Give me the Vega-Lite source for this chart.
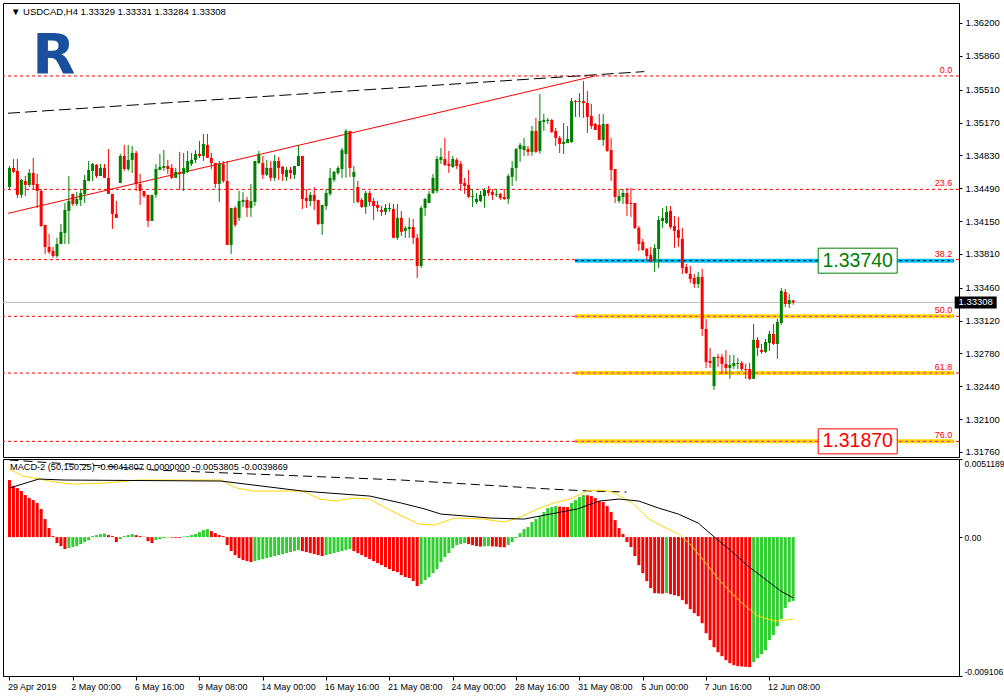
{
"$schema":"https://vega.github.io/schema/vega-lite/v6.json",
"background":"white",
"padding":{"left":2,"top":2,"right":0,"bottom":0},
"bounds":"flush",
"config":{"view":{"stroke":"#000000","strokeWidth":1},"font":"Liberation Sans","axis":{"labelFont":"Liberation Sans","labelFontSize":9.5,"labelColor":"#000000","tickColor":"#000000","domainColor":"#000000","grid":false,"labelOverlap":false,"labelBound":false}},
"spacing":2,
"datasets":{
"candles":[
{"i":0,"o":1.34503,"h":1.34720,"l":1.34482,"c":1.34700},
{"i":1,"o":1.34700,"h":1.34793,"l":1.34648,"c":1.34659},
{"i":2,"o":1.34669,"h":1.34793,"l":1.34390,"c":1.34421},
{"i":3,"o":1.34421,"h":1.34586,"l":1.34390,"c":1.34576},
{"i":4,"o":1.34565,"h":1.34617,"l":1.34410,"c":1.34524},
{"i":5,"o":1.34524,"h":1.34689,"l":1.34503,"c":1.34648},
{"i":6,"o":1.34648,"h":1.34804,"l":1.34482,"c":1.34524},
{"i":7,"o":1.34534,"h":1.34638,"l":1.34286,"c":1.34462},
{"i":8,"o":1.34462,"h":1.34482,"l":1.34089,"c":1.34099},
{"i":9,"o":1.34110,"h":1.34110,"l":1.33810,"c":1.33882},
{"i":10,"o":1.33882,"h":1.34017,"l":1.33810,"c":1.33831},
{"i":11,"o":1.33841,"h":1.33882,"l":1.33769,"c":1.33789},
{"i":12,"o":1.33789,"h":1.33976,"l":1.33769,"c":1.33913},
{"i":13,"o":1.33913,"h":1.34120,"l":1.33913,"c":1.34038},
{"i":14,"o":1.34027,"h":1.34337,"l":1.33913,"c":1.34265},
{"i":15,"o":1.34255,"h":1.34617,"l":1.33913,"c":1.34358},
{"i":16,"o":1.34431,"h":1.34431,"l":1.34306,"c":1.34327},
{"i":17,"o":1.34327,"h":1.34452,"l":1.34306,"c":1.34379},
{"i":18,"o":1.34369,"h":1.34482,"l":1.34306,"c":1.34441},
{"i":19,"o":1.34431,"h":1.34628,"l":1.34337,"c":1.34576},
{"i":20,"o":1.34565,"h":1.34772,"l":1.34565,"c":1.34679},
{"i":21,"o":1.34669,"h":1.34751,"l":1.34565,"c":1.34741},
{"i":22,"o":1.34731,"h":1.34741,"l":1.34597,"c":1.34617},
{"i":23,"o":1.34617,"h":1.34741,"l":1.34617,"c":1.34700},
{"i":24,"o":1.34700,"h":1.34741,"l":1.34597,"c":1.34597},
{"i":25,"o":1.34597,"h":1.34896,"l":1.34431,"c":1.34431},
{"i":26,"o":1.34431,"h":1.34431,"l":1.34068,"c":1.34224},
{"i":27,"o":1.34224,"h":1.34358,"l":1.34183,"c":1.34183},
{"i":28,"o":1.34544,"h":1.34845,"l":1.34544,"c":1.34824},
{"i":29,"o":1.34824,"h":1.34938,"l":1.34669,"c":1.34689},
{"i":30,"o":1.34689,"h":1.34938,"l":1.34669,"c":1.34783},
{"i":31,"o":1.34783,"h":1.34927,"l":1.34648,"c":1.34855},
{"i":32,"o":1.34855,"h":1.34876,"l":1.34462,"c":1.34534},
{"i":33,"o":1.34534,"h":1.34638,"l":1.34317,"c":1.34462},
{"i":34,"o":1.34462,"h":1.34462,"l":1.34390,"c":1.34410},
{"i":35,"o":1.34421,"h":1.34421,"l":1.34089,"c":1.34151},
{"i":36,"o":1.34151,"h":1.34421,"l":1.34151,"c":1.34421},
{"i":37,"o":1.34421,"h":1.34741,"l":1.34390,"c":1.34689},
{"i":38,"o":1.34679,"h":1.34845,"l":1.34679,"c":1.34710},
{"i":39,"o":1.34700,"h":1.34886,"l":1.34669,"c":1.34720},
{"i":40,"o":1.34720,"h":1.34783,"l":1.34638,"c":1.34689},
{"i":41,"o":1.34700,"h":1.34741,"l":1.34586,"c":1.34597},
{"i":42,"o":1.34597,"h":1.34700,"l":1.34597,"c":1.34659},
{"i":43,"o":1.34659,"h":1.34866,"l":1.34472,"c":1.34638},
{"i":44,"o":1.34638,"h":1.34855,"l":1.34462,"c":1.34700},
{"i":45,"o":1.34659,"h":1.34876,"l":1.34648,"c":1.34772},
{"i":46,"o":1.34741,"h":1.34855,"l":1.34720,"c":1.34783},
{"i":47,"o":1.34783,"h":1.34886,"l":1.34751,"c":1.34845},
{"i":48,"o":1.34845,"h":1.34979,"l":1.34804,"c":1.34824},
{"i":49,"o":1.34824,"h":1.35052,"l":1.34772,"c":1.34948},
{"i":50,"o":1.34938,"h":1.35052,"l":1.34804,"c":1.34804},
{"i":51,"o":1.34804,"h":1.34855,"l":1.34689,"c":1.34751},
{"i":52,"o":1.34751,"h":1.34751,"l":1.34493,"c":1.34534},
{"i":53,"o":1.34534,"h":1.34772,"l":1.34348,"c":1.34741},
{"i":54,"o":1.34741,"h":1.34772,"l":1.34544,"c":1.34565},
{"i":55,"o":1.34565,"h":1.34772,"l":1.33903,"c":1.33903},
{"i":56,"o":1.33903,"h":1.34286,"l":1.33810,"c":1.34286},
{"i":57,"o":1.34286,"h":1.34306,"l":1.34089,"c":1.34110},
{"i":58,"o":1.34183,"h":1.34462,"l":1.34151,"c":1.34358},
{"i":59,"o":1.34348,"h":1.34452,"l":1.34296,"c":1.34369},
{"i":60,"o":1.34369,"h":1.34400,"l":1.34193,"c":1.34286},
{"i":61,"o":1.34286,"h":1.34534,"l":1.34193,"c":1.34358},
{"i":62,"o":1.34348,"h":1.34772,"l":1.34306,"c":1.34772},
{"i":63,"o":1.34751,"h":1.34876,"l":1.34741,"c":1.34845},
{"i":64,"o":1.34751,"h":1.34824,"l":1.34586,"c":1.34628},
{"i":65,"o":1.34628,"h":1.34783,"l":1.34617,"c":1.34700},
{"i":66,"o":1.34700,"h":1.34772,"l":1.34565,"c":1.34597},
{"i":67,"o":1.34597,"h":1.34835,"l":1.34565,"c":1.34772},
{"i":68,"o":1.34772,"h":1.34814,"l":1.34576,"c":1.34700},
{"i":69,"o":1.34710,"h":1.34720,"l":1.34565,"c":1.34638},
{"i":70,"o":1.34607,"h":1.34710,"l":1.34565,"c":1.34679},
{"i":71,"o":1.34679,"h":1.34710,"l":1.34586,"c":1.34648},
{"i":72,"o":1.34628,"h":1.34720,"l":1.34586,"c":1.34720},
{"i":73,"o":1.34720,"h":1.34938,"l":1.34720,"c":1.34824},
{"i":74,"o":1.34824,"h":1.34824,"l":1.34275,"c":1.34379},
{"i":75,"o":1.34390,"h":1.34482,"l":1.34286,"c":1.34358},
{"i":76,"o":1.34358,"h":1.34452,"l":1.34306,"c":1.34421},
{"i":77,"o":1.34421,"h":1.34503,"l":1.34265,"c":1.34358},
{"i":78,"o":1.34369,"h":1.34369,"l":1.34110,"c":1.34120},
{"i":79,"o":1.34120,"h":1.34317,"l":1.34007,"c":1.34317},
{"i":80,"o":1.34306,"h":1.34482,"l":1.34265,"c":1.34441},
{"i":81,"o":1.34431,"h":1.34700,"l":1.34410,"c":1.34597},
{"i":82,"o":1.34576,"h":1.34669,"l":1.34555,"c":1.34659},
{"i":83,"o":1.34648,"h":1.34720,"l":1.34628,"c":1.34700},
{"i":84,"o":1.34689,"h":1.34907,"l":1.34597,"c":1.34886},
{"i":85,"o":1.34845,"h":1.35103,"l":1.34597,"c":1.35083},
{"i":86,"o":1.35083,"h":1.35083,"l":1.34607,"c":1.34700},
{"i":87,"o":1.34607,"h":1.34720,"l":1.34337,"c":1.34659},
{"i":88,"o":1.34503,"h":1.34565,"l":1.34337,"c":1.34348},
{"i":89,"o":1.34369,"h":1.34390,"l":1.34286,"c":1.34296},
{"i":90,"o":1.34296,"h":1.34462,"l":1.34224,"c":1.34441},
{"i":91,"o":1.34441,"h":1.34462,"l":1.34306,"c":1.34348},
{"i":92,"o":1.34358,"h":1.34390,"l":1.34162,"c":1.34306},
{"i":93,"o":1.34317,"h":1.34358,"l":1.34245,"c":1.34286},
{"i":94,"o":1.34265,"h":1.34306,"l":1.34203,"c":1.34245},
{"i":95,"o":1.34245,"h":1.34327,"l":1.34214,"c":1.34286},
{"i":96,"o":1.34275,"h":1.34337,"l":1.34245,"c":1.34286},
{"i":97,"o":1.34275,"h":1.34327,"l":1.33976,"c":1.33976},
{"i":98,"o":1.33976,"h":1.34327,"l":1.33955,"c":1.34183},
{"i":99,"o":1.34183,"h":1.34255,"l":1.33996,"c":1.34038},
{"i":100,"o":1.34048,"h":1.34099,"l":1.33976,"c":1.34079},
{"i":101,"o":1.34068,"h":1.34183,"l":1.33976,"c":1.34089},
{"i":102,"o":1.34089,"h":1.34172,"l":1.33913,"c":1.33976},
{"i":103,"o":1.33976,"h":1.34017,"l":1.33562,"c":1.33685},
{"i":104,"o":1.33685,"h":1.34306,"l":1.33665,"c":1.34286},
{"i":105,"o":1.34286,"h":1.34390,"l":1.34203,"c":1.34379},
{"i":106,"o":1.34337,"h":1.34462,"l":1.34337,"c":1.34431},
{"i":107,"o":1.34441,"h":1.34638,"l":1.34431,"c":1.34597},
{"i":108,"o":1.34462,"h":1.34824,"l":1.34441,"c":1.34793},
{"i":109,"o":1.34783,"h":1.34907,"l":1.34741,"c":1.34814},
{"i":110,"o":1.34793,"h":1.35011,"l":1.34720,"c":1.34731},
{"i":111,"o":1.34741,"h":1.34876,"l":1.34648,"c":1.34720},
{"i":112,"o":1.34710,"h":1.34824,"l":1.34700,"c":1.34793},
{"i":113,"o":1.34783,"h":1.34804,"l":1.34689,"c":1.34720},
{"i":114,"o":1.34741,"h":1.34772,"l":1.34462,"c":1.34534},
{"i":115,"o":1.34544,"h":1.34597,"l":1.34431,"c":1.34513},
{"i":116,"o":1.34524,"h":1.34679,"l":1.34390,"c":1.34400},
{"i":117,"o":1.34400,"h":1.34482,"l":1.34296,"c":1.34410},
{"i":118,"o":1.34348,"h":1.34441,"l":1.34327,"c":1.34379},
{"i":119,"o":1.34358,"h":1.34462,"l":1.34348,"c":1.34421},
{"i":120,"o":1.34410,"h":1.34493,"l":1.34286,"c":1.34472},
{"i":121,"o":1.34472,"h":1.34513,"l":1.34410,"c":1.34441},
{"i":122,"o":1.34452,"h":1.34482,"l":1.34369,"c":1.34421},
{"i":123,"o":1.34421,"h":1.34482,"l":1.34400,"c":1.34431},
{"i":124,"o":1.34431,"h":1.34441,"l":1.34369,"c":1.34390},
{"i":125,"o":1.34400,"h":1.34482,"l":1.34369,"c":1.34379},
{"i":126,"o":1.34379,"h":1.34638,"l":1.34327,"c":1.34617},
{"i":127,"o":1.34607,"h":1.34772,"l":1.34513,"c":1.34700},
{"i":128,"o":1.34700,"h":1.34907,"l":1.34565,"c":1.34896},
{"i":129,"o":1.34896,"h":1.34958,"l":1.34762,"c":1.34938},
{"i":130,"o":1.34886,"h":1.35011,"l":1.34824,"c":1.34927},
{"i":131,"o":1.34896,"h":1.34927,"l":1.34824,"c":1.34866},
{"i":132,"o":1.34866,"h":1.35134,"l":1.34824,"c":1.35083},
{"i":133,"o":1.35083,"h":1.35218,"l":1.34855,"c":1.34866},
{"i":134,"o":1.34876,"h":1.35465,"l":1.34845,"c":1.35186},
{"i":135,"o":1.35176,"h":1.35259,"l":1.35083,"c":1.35197},
{"i":136,"o":1.35186,"h":1.35218,"l":1.35155,"c":1.35197},
{"i":137,"o":1.35197,"h":1.35207,"l":1.35062,"c":1.35073},
{"i":138,"o":1.35083,"h":1.35114,"l":1.34927,"c":1.35011},
{"i":139,"o":1.35011,"h":1.35031,"l":1.34855,"c":1.34948},
{"i":140,"o":1.34948,"h":1.35165,"l":1.34845,"c":1.34969},
{"i":141,"o":1.34958,"h":1.35134,"l":1.34958,"c":1.35000},
{"i":142,"o":1.34969,"h":1.35424,"l":1.34958,"c":1.35393},
{"i":143,"o":1.35393,"h":1.35403,"l":1.35228,"c":1.35383},
{"i":144,"o":1.35383,"h":1.35475,"l":1.35228,"c":1.35393},
{"i":145,"o":1.35393,"h":1.35600,"l":1.35218,"c":1.35372},
{"i":146,"o":1.35372,"h":1.35496,"l":1.35062,"c":1.35228},
{"i":147,"o":1.35238,"h":1.35362,"l":1.35103,"c":1.35134},
{"i":148,"o":1.35155,"h":1.35165,"l":1.35093,"c":1.35093},
{"i":149,"o":1.35145,"h":1.35259,"l":1.34990,"c":1.34990},
{"i":150,"o":1.34990,"h":1.35259,"l":1.34927,"c":1.35155},
{"i":151,"o":1.35155,"h":1.35155,"l":1.34866,"c":1.34876},
{"i":152,"o":1.34886,"h":1.35011,"l":1.34565,"c":1.34679},
{"i":153,"o":1.34689,"h":1.34689,"l":1.34337,"c":1.34400},
{"i":154,"o":1.34358,"h":1.34482,"l":1.34337,"c":1.34410},
{"i":155,"o":1.34400,"h":1.34482,"l":1.34327,"c":1.34441},
{"i":156,"o":1.34441,"h":1.34493,"l":1.34203,"c":1.34327},
{"i":157,"o":1.34337,"h":1.34493,"l":1.34193,"c":1.34327},
{"i":158,"o":1.34337,"h":1.34337,"l":1.34068,"c":1.34079},
{"i":159,"o":1.34079,"h":1.34099,"l":1.33841,"c":1.33913},
{"i":160,"o":1.33934,"h":1.33965,"l":1.33841,"c":1.33851},
{"i":161,"o":1.33861,"h":1.33872,"l":1.33748,"c":1.33789},
{"i":162,"o":1.33800,"h":1.33882,"l":1.33727,"c":1.33727},
{"i":163,"o":1.33737,"h":1.33913,"l":1.33624,"c":1.33872},
{"i":164,"o":1.33861,"h":1.34203,"l":1.33665,"c":1.34162},
{"i":165,"o":1.34151,"h":1.34286,"l":1.34079,"c":1.34183},
{"i":166,"o":1.34130,"h":1.34306,"l":1.34120,"c":1.34245},
{"i":167,"o":1.34255,"h":1.34306,"l":1.34068,"c":1.34089},
{"i":168,"o":1.34099,"h":1.34203,"l":1.33872,"c":1.34048},
{"i":169,"o":1.34058,"h":1.34193,"l":1.33882,"c":1.33976},
{"i":170,"o":1.33965,"h":1.34079,"l":1.33603,"c":1.33665},
{"i":171,"o":1.33675,"h":1.33706,"l":1.33603,"c":1.33613},
{"i":172,"o":1.33603,"h":1.33685,"l":1.33509,"c":1.33551},
{"i":173,"o":1.33562,"h":1.33603,"l":1.33458,"c":1.33499},
{"i":174,"o":1.33499,"h":1.33624,"l":1.33458,"c":1.33572},
{"i":175,"o":1.33572,"h":1.33655,"l":1.32961,"c":1.33033},
{"i":176,"o":1.33033,"h":1.33137,"l":1.32630,"c":1.32692},
{"i":177,"o":1.32702,"h":1.32837,"l":1.32630,"c":1.32681},
{"i":178,"o":1.32443,"h":1.32744,"l":1.32402,"c":1.32744},
{"i":179,"o":1.32744,"h":1.32775,"l":1.32640,"c":1.32733},
{"i":180,"o":1.32744,"h":1.32775,"l":1.32568,"c":1.32671},
{"i":181,"o":1.32671,"h":1.32816,"l":1.32568,"c":1.32630},
{"i":182,"o":1.32630,"h":1.32765,"l":1.32516,"c":1.32661},
{"i":183,"o":1.32650,"h":1.32765,"l":1.32619,"c":1.32681},
{"i":184,"o":1.32671,"h":1.32733,"l":1.32619,"c":1.32681},
{"i":185,"o":1.32681,"h":1.32702,"l":1.32599,"c":1.32619},
{"i":186,"o":1.32619,"h":1.32671,"l":1.32516,"c":1.32609},
{"i":187,"o":1.32619,"h":1.32681,"l":1.32506,"c":1.32516},
{"i":188,"o":1.32516,"h":1.33085,"l":1.32516,"c":1.32920},
{"i":189,"o":1.32920,"h":1.32951,"l":1.32754,"c":1.32837},
{"i":190,"o":1.32816,"h":1.32878,"l":1.32775,"c":1.32796},
{"i":191,"o":1.32796,"h":1.32930,"l":1.32785,"c":1.32899},
{"i":192,"o":1.32888,"h":1.33013,"l":1.32806,"c":1.32982},
{"i":193,"o":1.32982,"h":1.33085,"l":1.32868,"c":1.32878},
{"i":194,"o":1.32878,"h":1.33137,"l":1.32723,"c":1.33106},
{"i":195,"o":1.33095,"h":1.33458,"l":1.33075,"c":1.33427},
{"i":196,"o":1.33417,"h":1.33448,"l":1.33261,"c":1.33292},
{"i":197,"o":1.33292,"h":1.33396,"l":1.33251,"c":1.33334},
{"i":198,"o":1.33329,"h":1.33331,"l":1.33284,"c":1.33308}
],
"hist":[
{"i":0,"v":0.003739,"d":"dn"},{"i":1,"v":0.003346,"d":"dn"},{"i":2,"v":0.003214,"d":"dn"},{"i":3,"v":0.003018,"d":"dn"},{"i":4,"v":0.002755,"d":"dn"},{"i":5,"v":0.002558,"d":"dn"},{"i":6,"v":0.002427,"d":"dn"},{"i":7,"v":0.00223,"d":"dn"},{"i":8,"v":0.001837,"d":"dn"},{"i":9,"v":0.001181,"d":"dn"},
{"i":10,"v":0.00059,"d":"dn"},{"i":11,"v":0.000066,"d":"dn"},{"i":12,"v":-0.000394,"d":"dn"},{"i":13,"v":-0.00059,"d":"dn"},{"i":14,"v":-0.000787,"d":"dn"},{"i":15,"v":-0.000722,"d":"up"},{"i":16,"v":-0.000656,"d":"up"},{"i":17,"v":-0.00059,"d":"up"},{"i":18,"v":-0.000459,"d":"up"},{"i":19,"v":-0.000328,"d":"up"},
{"i":20,"v":-0.000197,"d":"up"},{"i":21,"v":0.000066,"d":"up"},{"i":22,"v":0.000131,"d":"up"},{"i":23,"v":0.000197,"d":"up"},{"i":24,"v":0.00023,"d":"up"},{"i":25,"v":0.000131,"d":"dn"},{"i":26,"v":0.000066,"d":"dn"},{"i":27,"v":-0.000328,"d":"dn"},{"i":28,"v":-0.000131,"d":"up"},{"i":29,"v":0.000066,"d":"up"},
{"i":30,"v":0.000131,"d":"up"},{"i":31,"v":0.000197,"d":"up"},{"i":32,"v":0.000131,"d":"dn"},{"i":33,"v":0.000066,"d":"dn"},{"i":34,"v":0.00002,"d":"dn"},{"i":35,"v":-0.000262,"d":"dn"},{"i":36,"v":-0.000394,"d":"dn"},{"i":37,"v":-0.000197,"d":"up"},{"i":38,"v":-0.000131,"d":"up"},{"i":39,"v":-0.000066,"d":"up"},
{"i":40,"v":-0.000033,"d":"up"},{"i":41,"v":-0.000039,"d":"dn"},{"i":42,"v":-0.000046,"d":"dn"},{"i":43,"v":-0.000052,"d":"dn"},{"i":44,"v":0.000033,"d":"up"},{"i":45,"v":0.000066,"d":"up"},{"i":46,"v":0.000131,"d":"up"},{"i":47,"v":0.000197,"d":"up"},{"i":48,"v":0.000328,"d":"up"},{"i":49,"v":0.000459,"d":"up"},
{"i":50,"v":0.000525,"d":"up"},{"i":51,"v":0.000394,"d":"dn"},{"i":52,"v":0.000262,"d":"dn"},{"i":53,"v":0.000131,"d":"dn"},{"i":54,"v":0.000066,"d":"dn"},{"i":55,"v":-0.000525,"d":"dn"},{"i":56,"v":-0.000918,"d":"dn"},{"i":57,"v":-0.001181,"d":"dn"},{"i":58,"v":-0.001378,"d":"dn"},{"i":59,"v":-0.001509,"d":"dn"},
{"i":60,"v":-0.001574,"d":"dn"},{"i":61,"v":-0.00164,"d":"dn"},{"i":62,"v":-0.001574,"d":"up"},{"i":63,"v":-0.001509,"d":"up"},{"i":64,"v":-0.001443,"d":"up"},{"i":65,"v":-0.001378,"d":"up"},{"i":66,"v":-0.001312,"d":"up"},{"i":67,"v":-0.001246,"d":"up"},{"i":68,"v":-0.001181,"d":"up"},{"i":69,"v":-0.001115,"d":"up"},
{"i":70,"v":-0.00105,"d":"up"},{"i":71,"v":-0.000984,"d":"up"},{"i":72,"v":-0.000918,"d":"up"},{"i":73,"v":-0.000853,"d":"up"},{"i":74,"v":-0.000918,"d":"dn"},{"i":75,"v":-0.000984,"d":"dn"},{"i":76,"v":-0.00105,"d":"dn"},{"i":77,"v":-0.001115,"d":"dn"},{"i":78,"v":-0.001181,"d":"dn"},{"i":79,"v":-0.001246,"d":"dn"},
{"i":80,"v":-0.001181,"d":"up"},{"i":81,"v":-0.001115,"d":"up"},{"i":82,"v":-0.00105,"d":"up"},{"i":83,"v":-0.000984,"d":"up"},{"i":84,"v":-0.000918,"d":"up"},{"i":85,"v":-0.000853,"d":"up"},{"i":86,"v":-0.000787,"d":"up"},{"i":87,"v":-0.000918,"d":"dn"},{"i":88,"v":-0.00105,"d":"dn"},{"i":89,"v":-0.001181,"d":"dn"},
{"i":90,"v":-0.001312,"d":"dn"},{"i":91,"v":-0.001443,"d":"dn"},{"i":92,"v":-0.001574,"d":"dn"},{"i":93,"v":-0.001706,"d":"dn"},{"i":94,"v":-0.001837,"d":"dn"},{"i":95,"v":-0.001968,"d":"dn"},{"i":96,"v":-0.002099,"d":"dn"},{"i":97,"v":-0.00223,"d":"dn"},{"i":98,"v":-0.002296,"d":"dn"},{"i":99,"v":-0.002493,"d":"dn"},
{"i":100,"v":-0.002624,"d":"dn"},{"i":101,"v":-0.00269,"d":"dn"},{"i":102,"v":-0.002886,"d":"dn"},{"i":103,"v":-0.003214,"d":"dn"},{"i":104,"v":-0.003083,"d":"up"},{"i":105,"v":-0.002821,"d":"up"},{"i":106,"v":-0.002624,"d":"up"},{"i":107,"v":-0.002362,"d":"up"},{"i":108,"v":-0.002099,"d":"up"},{"i":109,"v":-0.00164,"d":"up"},
{"i":110,"v":-0.001312,"d":"up"},{"i":111,"v":-0.00105,"d":"up"},{"i":112,"v":-0.000722,"d":"up"},{"i":113,"v":-0.000525,"d":"up"},{"i":114,"v":-0.000459,"d":"up"},{"i":115,"v":-0.000394,"d":"up"},{"i":116,"v":-0.000459,"d":"dn"},{"i":117,"v":-0.000525,"d":"dn"},{"i":118,"v":-0.00059,"d":"dn"},{"i":119,"v":-0.000623,"d":"dn"},
{"i":120,"v":-0.000604,"d":"up"},{"i":121,"v":-0.00059,"d":"up"},{"i":122,"v":-0.00061,"d":"dn"},{"i":123,"v":-0.000623,"d":"dn"},{"i":124,"v":-0.000656,"d":"dn"},{"i":125,"v":-0.000669,"d":"dn"},{"i":126,"v":-0.000525,"d":"up"},{"i":127,"v":-0.000328,"d":"up"},{"i":128,"v":-0.000066,"d":"up"},{"i":129,"v":0.000262,"d":"up"},
{"i":130,"v":0.000525,"d":"up"},{"i":131,"v":0.000656,"d":"up"},{"i":132,"v":0.000984,"d":"up"},{"i":133,"v":0.001181,"d":"up"},{"i":134,"v":0.001378,"d":"up"},{"i":135,"v":0.00164,"d":"up"},{"i":136,"v":0.001902,"d":"up"},{"i":137,"v":0.001968,"d":"up"},{"i":138,"v":0.002034,"d":"up"},{"i":139,"v":0.002001,"d":"dn"},
{"i":140,"v":0.001981,"d":"dn"},{"i":141,"v":0.001968,"d":"dn"},{"i":142,"v":0.00223,"d":"up"},{"i":143,"v":0.002427,"d":"up"},{"i":144,"v":0.002624,"d":"up"},{"i":145,"v":0.002755,"d":"up"},{"i":146,"v":0.002742,"d":"dn"},{"i":147,"v":0.00269,"d":"dn"},{"i":148,"v":0.002558,"d":"dn"},{"i":149,"v":0.002362,"d":"dn"},
{"i":150,"v":0.002296,"d":"dn"},{"i":151,"v":0.002034,"d":"dn"},{"i":152,"v":0.00164,"d":"dn"},{"i":153,"v":0.001115,"d":"dn"},{"i":154,"v":0.00059,"d":"dn"},{"i":155,"v":0.000197,"d":"dn"},{"i":156,"v":-0.000328,"d":"dn"},{"i":157,"v":-0.000656,"d":"dn"},{"i":158,"v":-0.001246,"d":"dn"},{"i":159,"v":-0.001837,"d":"dn"},
{"i":160,"v":-0.002362,"d":"dn"},{"i":161,"v":-0.002886,"d":"dn"},{"i":162,"v":-0.003346,"d":"dn"},{"i":163,"v":-0.003674,"d":"dn"},{"i":164,"v":-0.003693,"d":"dn"},{"i":165,"v":-0.003706,"d":"dn"},{"i":166,"v":-0.003674,"d":"up"},{"i":167,"v":-0.003739,"d":"dn"},{"i":168,"v":-0.003805,"d":"dn"},{"i":169,"v":-0.00387,"d":"dn"},
{"i":170,"v":-0.004133,"d":"dn"},{"i":171,"v":-0.004395,"d":"dn"},{"i":172,"v":-0.004723,"d":"dn"},{"i":173,"v":-0.004986,"d":"dn"},{"i":174,"v":-0.005182,"d":"dn"},{"i":175,"v":-0.005642,"d":"dn"},{"i":176,"v":-0.006298,"d":"dn"},{"i":177,"v":-0.006757,"d":"dn"},{"i":178,"v":-0.007216,"d":"dn"},{"i":179,"v":-0.007544,"d":"dn"},
{"i":180,"v":-0.007806,"d":"dn"},{"i":181,"v":-0.008069,"d":"dn"},{"i":182,"v":-0.008266,"d":"dn"},{"i":183,"v":-0.008397,"d":"dn"},{"i":184,"v":-0.008462,"d":"dn"},{"i":185,"v":-0.008482,"d":"dn"},{"i":186,"v":-0.008502,"d":"dn"},{"i":187,"v":-0.008528,"d":"dn"},{"i":188,"v":-0.0082,"d":"up"},{"i":189,"v":-0.007938,"d":"up"},
{"i":190,"v":-0.007675,"d":"up"},{"i":191,"v":-0.007413,"d":"up"},{"i":192,"v":-0.006757,"d":"up"},{"i":193,"v":-0.006429,"d":"up"},{"i":194,"v":-0.005838,"d":"up"},{"i":195,"v":-0.005379,"d":"up"},{"i":196,"v":-0.004658,"d":"up"},{"i":197,"v":-0.004264,"d":"up"},{"i":198,"v":-0.0041807,"d":"up"}
],
"sig":[{"i":0,"v":0.004461},{"i":3.4,"v":0.004002},{"i":11.6,"v":0.003608},{"i":15.9,"v":0.003477},{"i":24.1,"v":0.003542},{"i":32.4,"v":0.003739},{"i":53.4,"v":0.003739},{"i":57.4,"v":0.003214},{"i":61.6,"v":0.003018},{"i":74.1,"v":0.003018},{"i":78.4,"v":0.002493},{"i":82.4,"v":0.002362},{"i":86.6,"v":0.002558},{"i":90.9,"v":0.002493},{"i":96.6,"v":0.001706},{"i":103.4,"v":0.000853},{"i":107.4,"v":0.000787},{"i":112.4,"v":0.001246},{"i":119.9,"v":0.001181},{"i":124.9,"v":0.000984},{"i":128.4,"v":0.001246},{"i":133.4,"v":0.001837},{"i":137.4,"v":0.00223},{"i":141.6,"v":0.002493},{"i":145.9,"v":0.003018},{"i":149.1,"v":0.003083},{"i":152.4,"v":0.002952},{"i":157.4,"v":0.00223},{"i":161.6,"v":0.001181},{"i":165.9,"v":0.00059},{"i":169.1,"v":0.000197},{"i":172.4,"v":-0.00059},{"i":175.9,"v":-0.001706},{"i":179.1,"v":-0.002755},{"i":182.4,"v":-0.003674},{"i":185.9,"v":-0.004526},{"i":189.1,"v":-0.005182},{"i":193.4,"v":-0.00551},{"i":198,"v":-0.0053805}],
"macd":[{"i":0,"v":0.003214},{"i":7.4,"v":0.003805},{"i":14,"v":0.003739},{"i":53.4,"v":0.003674},{"i":74,"v":0.003018},{"i":91,"v":0.00269},{"i":99,"v":0.00223},{"i":105,"v":0.001837},{"i":109,"v":0.001509},{"i":121.6,"v":0.001246},{"i":130,"v":0.001181},{"i":136.6,"v":0.001509},{"i":143.4,"v":0.001837},{"i":149,"v":0.002362},{"i":154,"v":0.002493},{"i":159,"v":0.002362},{"i":164,"v":0.001902},{"i":169,"v":0.001509},{"i":174,"v":0.000918},{"i":178.4,"v":-0.000066},{"i":182.4,"v":-0.000918},{"i":186.6,"v":-0.001902},{"i":190.9,"v":-0.002755},{"i":194.9,"v":-0.003542},{"i":198,"v":-0.0039869}],
"dsh":[{"i":0,"v":0.005051},{"i":11.6,"v":0.004854},{"i":24.1,"v":0.004658},{"i":36.6,"v":0.004395},{"i":49.1,"v":0.004264},{"i":61.6,"v":0.004133},{"i":74.1,"v":0.004002},{"i":86.6,"v":0.00387},{"i":99.1,"v":0.003739},{"i":111.6,"v":0.003542},{"i":124.1,"v":0.003346},{"i":136.6,"v":0.003149},{"i":146.6,"v":0.003018},{"i":155.9,"v":0.002952}],
"fib":[{"lvl":"0.0","p":1.35652},{"lvl":"23.6","p":1.34478},{"lvl":"38.2","p":1.33751},{"lvl":"50.0","p":1.33164},{"lvl":"61.8","p":1.32577},{"lvl":"76.0","p":1.3187}],
"bands":[{"p":1.3374,"band":"blue"},{"p":1.33164,"band":"gold"},{"p":1.32577,"band":"gold"},{"p":1.3187,"band":"gold"}],
"tags":[{"t":"1.33740","p":1.3374,"kind":"green"},{"t":"1.31870","p":1.3187,"kind":"red"}],
"trendR":[{"i":-0.375,"p":1.3423},{"i":147.9,"p":1.35652}],
"trendB":[{"i":-0.375,"p":1.35266},{"i":160.4,"p":1.35697}],
"cur":[{"p":1.33308,"t":"1.33308"}],
"hdr":[{"t":"▼ USDCAD,H4  1.33329 1.33331 1.33284 1.33308"}],
"mhdr":[{"t":"MACD-2 (50,150,25) -0.0041807 0.0000000 -0.0053805 -0.0039869"}],
"logo":[{"t":"R"}]
},
"vconcat":[
{"width":956,"height":454,
"layer":[
{"data":{"name":"fib"},"mark":{"type":"rule","color":"#ff0000","strokeDash":[3,3],"strokeWidth":1},
"encoding":{"y":{"field":"p","type":"quantitative","title":null,"scale":{"domain":[1.31708,1.36407],"nice":false,"zero":false},
"axis":{"orient":"right","title":null,"values":[1.362,1.3586,1.3551,1.3517,1.3483,1.3449,1.3415,1.3381,1.3346,1.3312,1.3278,1.3244,1.321,1.3176],"tickCount":30,"format":".5f","tickSize":3,"labelPadding":3,"grid":false,"labelOverlap":false}}}},
{"data":{"name":"fib"},"mark":{"type":"text","color":"#ff0000","fontSize":9,"align":"right","baseline":"bottom","dy":-1},
"encoding":{"x":{"datum":238.2,"type":"quantitative","scale":{"domain":[-0.375,238.625],"nice":false,"zero":false},"axis":null},
"y":{"field":"p","type":"quantitative","title":null},"text":{"field":"lvl"}}},
{"data":{"name":"cur"},"mark":{"type":"rule","color":"#c0c0c0","strokeWidth":1},
"encoding":{"y":{"field":"p","type":"quantitative","title":null}}},
{"data":{"name":"bands"},"mark":{"type":"rule","strokeWidth":4},
"encoding":{"x":{"datum":142.9,"type":"quantitative","axis":null},"x2":{"datum":238.625},"y":{"field":"p","type":"quantitative","title":null},
"color":{"condition":{"test":"datum.band == 'blue'","value":"#00bfff"},"value":"#ffd700"}}},
{"data":{"name":"bands"},"mark":{"type":"rule","strokeWidth":1,"strokeDash":[3,3]},
"encoding":{"x":{"datum":142.9,"type":"quantitative","axis":null},"x2":{"datum":238.625},"y":{"field":"p","type":"quantitative","title":null},
"color":{"condition":{"test":"datum.band == 'blue'","value":"#000000"},"value":"#ff00ff"}}},
{"data":{"name":"trendR"},"mark":{"type":"line","color":"#ff0000","strokeWidth":1},
"encoding":{"x":{"field":"i","type":"quantitative","axis":null},"y":{"field":"p","type":"quantitative","title":null}}},
{"data":{"name":"trendB"},"mark":{"type":"line","color":"#000000","strokeWidth":1,"strokeDash":[12,5]},
"encoding":{"x":{"field":"i","type":"quantitative","axis":null},"y":{"field":"p","type":"quantitative","title":null}}},
{"data":{"name":"candles"},"mark":{"type":"rule","strokeWidth":1},
"encoding":{"x":{"field":"i","type":"quantitative","axis":null},"y":{"field":"l","type":"quantitative","title":null},"y2":{"field":"h"},
"color":{"condition":{"test":"datum.c > datum.o","value":"#008000"},"value":"#ff0000"}}},
{"data":{"name":"candles"},"mark":{"type":"bar","size":3,"orient":"vertical","minBandSize":1},
"encoding":{"x":{"field":"i","type":"quantitative","axis":null},"y":{"field":"o","type":"quantitative","title":null},"y2":{"field":"c"},
"color":{"condition":{"test":"datum.c > datum.o","value":"#008000"},"value":"#ff0000"}}},
{"data":{"name":"tags"},"mark":{"type":"rect","width":79,"height":25,"fill":"white","strokeWidth":1},
"encoding":{"x":{"datum":214.3,"type":"quantitative","axis":null},"y":{"field":"p","type":"quantitative","title":null},
"stroke":{"condition":{"test":"datum.kind == 'green'","value":"#008000"},"value":"#ff0000"}}},
{"data":{"name":"tags"},"mark":{"type":"text","fontSize":19.5,"align":"center","baseline":"middle"},
"encoding":{"x":{"datum":214.3,"type":"quantitative","axis":null},"y":{"field":"p","type":"quantitative","title":null},"text":{"field":"t"},
"color":{"condition":{"test":"datum.kind == 'green'","value":"#008000"},"value":"#ff0000"}}},
{"data":{"name":"cur"},"mark":{"type":"rect","width":42,"height":12,"fill":"#000000"},
"encoding":{"x":{"datum":244.1,"type":"quantitative","axis":null},"y":{"field":"p","type":"quantitative","title":null}}},
{"data":{"name":"cur"},"mark":{"type":"text","fontSize":9.5,"color":"#ffffff","align":"center","baseline":"middle"},
"encoding":{"x":{"datum":244.1,"type":"quantitative","axis":null},"y":{"field":"p","type":"quantitative","title":null},"text":{"field":"t"}}},
{"data":{"name":"hdr"},"mark":{"type":"text","fontSize":9.5,"color":"#000000","align":"left","baseline":"middle","dx":3},
"encoding":{"x":{"datum":-0.375,"type":"quantitative","axis":null},"y":{"datum":1.36314,"type":"quantitative","title":null},"text":{"field":"t"}}},
{"data":{"name":"logo"},"mark":{"type":"text","fontSize":56,"font":"DejaVu Sans","fontWeight":"bold","color":"#1a4f9c","align":"center","baseline":"alphabetic"},
"encoding":{"x":{"datum":11.2,"type":"quantitative","axis":null},"y":{"datum":1.35683,"type":"quantitative","title":null},"text":{"field":"t"}}}
]},
{"width":956,"height":217,
"layer":[
{"data":{"name":"hist"},"mark":{"type":"bar","size":3,"orient":"vertical"},
"encoding":{"x":{"field":"i","type":"quantitative","title":null,"scale":{"domain":[-0.375,238.625],"nice":false,"zero":false},
"axis":{"orient":"bottom","title":null,"values":[0,16,32,48,64,80,96,112,128,144,160,176,192],"tickCount":30,"labelExpr":"['29 Apr 2019','2 May 00:00','6 May 16:00','9 May 08:00','14 May 00:00','16 May 16:00','21 May 08:00','24 May 00:00','28 May 16:00','31 May 08:00','5 Jun 00:00','7 Jun 16:00','12 Jun 08:00'][round(datum.value/16)]","labelAlign":"left","labelFontSize":9,"labelPadding":2,"tickSize":4,"labelFlush":false,"labelOffset":-2,"grid":false}},
"y":{"field":"v","type":"quantitative","title":null,"scale":{"domain":[-0.009106,0.0051189],"nice":false,"zero":false},
"axis":{"orient":"right","title":null,"values":[0.0051189,0,-0.009106],"labelExpr":"datum.value == 0 ? '0.00' : (datum.value > 0 ? '0.0051189' : '-0.009106')","labelFlush":true,"labelFontSize":8.6,"tickSize":3,"labelPadding":2,"grid":false}},
"y2":{"datum":0},
"color":{"condition":{"test":"datum.d == 'up'","value":"#32cd32"},"value":"#ff0000"}}},
{"data":{"name":"dsh"},"mark":{"type":"line","color":"#000000","strokeWidth":1,"strokeDash":[9,5]},
"encoding":{"x":{"field":"i","type":"quantitative","title":null},"y":{"field":"v","type":"quantitative","title":null}}},
{"data":{"name":"sig"},"mark":{"type":"line","color":"#ffd700","strokeWidth":1},
"encoding":{"x":{"field":"i","type":"quantitative","title":null},"y":{"field":"v","type":"quantitative","title":null}}},
{"data":{"name":"macd"},"mark":{"type":"line","color":"#000000","strokeWidth":1},
"encoding":{"x":{"field":"i","type":"quantitative","title":null},"y":{"field":"v","type":"quantitative","title":null}}},
{"data":{"name":"mhdr"},"mark":{"type":"text","fontSize":9.2,"color":"#000000","align":"left","baseline":"middle","dx":2},
"encoding":{"x":{"datum":-0.375,"type":"quantitative","title":null},"y":{"datum":0.00459,"type":"quantitative","title":null},"text":{"field":"t"}}}
]}
]
}
